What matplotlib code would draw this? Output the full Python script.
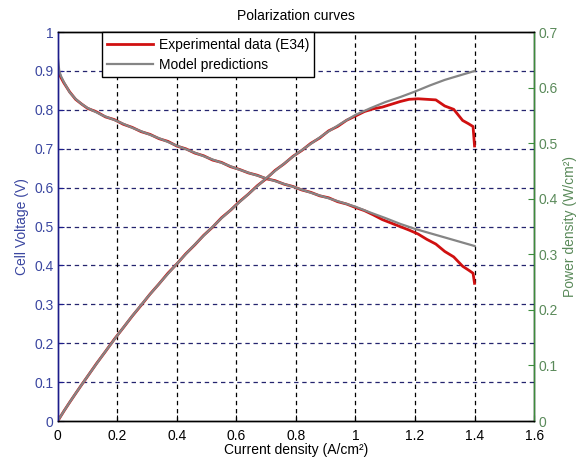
import numpy as np
import matplotlib
matplotlib.use("Agg")
import matplotlib.pyplot as plt

plt.rcParams['font.family'] = ['Liberation Sans', 'DejaVu Sans']

# --- data ---
# experimental data (E34)
exp_i = [0, 0.01, 0.02, 0.04, 0.06, 0.08, 0.10, 0.13, 0.16, 0.19, 0.22, 0.25,
         0.28, 0.31, 0.34, 0.37, 0.40, 0.43, 0.46, 0.49, 0.52, 0.55, 0.58, 0.61,
         0.64, 0.67, 0.70, 0.73, 0.76, 0.79, 0.82, 0.85, 0.88, 0.91, 0.94, 0.97,
         1.00, 1.03, 1.06, 1.09, 1.12, 1.15, 1.18, 1.21, 1.24, 1.27, 1.30, 1.33,
         1.36, 1.38, 1.395, 1.40]
exp_v = [0.905, 0.884, 0.870, 0.846, 0.827, 0.815, 0.804, 0.795, 0.782, 0.775,
         0.763, 0.755, 0.744, 0.737, 0.726, 0.719, 0.707, 0.700, 0.689, 0.682,
         0.671, 0.665, 0.654, 0.647, 0.638, 0.632, 0.623, 0.618, 0.609, 0.603,
         0.594, 0.588, 0.579, 0.574, 0.564, 0.558, 0.549, 0.541, 0.530, 0.518,
         0.509, 0.500, 0.491, 0.481, 0.467, 0.455, 0.436, 0.422, 0.398, 0.388,
         0.380, 0.354]
exp_p = [0, 0.0088, 0.0174, 0.0338, 0.0496, 0.0652, 0.0804, 0.1034, 0.1251,
         0.1473, 0.1679, 0.1888, 0.2083, 0.2285, 0.2468, 0.2660, 0.2828, 0.3010,
         0.3169, 0.3342, 0.3489, 0.3658, 0.3793, 0.3947, 0.4083, 0.4234, 0.4361,
         0.4511, 0.4628, 0.4764, 0.4871, 0.4998, 0.5095, 0.5223, 0.5302, 0.5413,
         0.5490, 0.5570, 0.5620, 0.5650, 0.5700, 0.5750, 0.5790, 0.5800, 0.5790,
         0.5780, 0.5670, 0.5610, 0.5410, 0.5350, 0.5300, 0.4950]

# model predictions
mod_i = [0, 0.005, 0.01, 0.02, 0.04, 0.06, 0.08, 0.10, 0.15, 0.20, 0.25, 0.30,
         0.35, 0.40, 0.45, 0.50, 0.55, 0.60, 0.65, 0.70, 0.75, 0.80, 0.85, 0.90,
         0.95, 1.00, 1.05, 1.10, 1.15, 1.20, 1.25, 1.30, 1.35, 1.40]
mod_v = [0.935, 0.900, 0.888, 0.872, 0.845, 0.828, 0.815, 0.805, 0.786, 0.771,
         0.754, 0.739, 0.724, 0.708, 0.693, 0.678, 0.664, 0.649, 0.636, 0.624,
         0.612, 0.600, 0.587, 0.575, 0.563, 0.551, 0.536, 0.522, 0.507, 0.494,
         0.483, 0.472, 0.461, 0.450]
mod_p = [0, 0.0045, 0.0089, 0.0174, 0.0338, 0.0497, 0.0652, 0.0805, 0.118, 0.154,
         0.189, 0.222, 0.253, 0.283, 0.312, 0.339, 0.365, 0.389, 0.413, 0.437,
         0.459, 0.480, 0.499, 0.518, 0.535, 0.551, 0.563, 0.574, 0.583, 0.593,
         0.604, 0.614, 0.622, 0.630]

x_ticks = [0, 0.2, 0.4, 0.6, 0.8, 1.0, 1.2, 1.4, 1.6]
x_labels = ['0', '0.2', '0.4', '0.6', '0.8', '1', '1.2', '1.4', '1.6']
v_ticks = [0, 0.1, 0.2, 0.3, 0.4, 0.5, 0.6, 0.7, 0.8, 0.9, 1.0]
v_labels = ['0', '0.1', '0.2', '0.3', '0.4', '0.5', '0.6', '0.7', '0.8', '0.9', '1']
p_ticks = [0, 0.1, 0.2, 0.3, 0.4, 0.5, 0.6, 0.7]
p_labels = ['0', '0.1', '0.2', '0.3', '0.4', '0.5', '0.6', '0.7']

red = '#d01010'
grey = '#858585'
navy = '#1c1c8a'
green = '#3c8c3c'
fs = 10

fig = plt.figure(figsize=(5.78, 4.68), dpi=100)
ax1 = fig.add_axes([0.100, 0.1004, 0.824, 0.831])
ax2 = ax1.twinx()

# voltage on left axis
l1, = ax1.plot(exp_i, exp_v, color=red, lw=2.0, label='Experimental data (E34)')
l2, = ax1.plot(mod_i, mod_v, color=grey, lw=1.6, label='Model predictions')
# power on right axis
ax2.plot(exp_i, exp_p, color=red, lw=2.0)
ax2.plot(mod_i, mod_p, color=grey, lw=1.6)

ax1.set_xlim(0, 1.6)
ax1.set_ylim(0, 1)
ax2.set_ylim(0, 0.7)

ax1.set_xticks(x_ticks)
ax1.set_xticklabels(x_labels)
ax1.set_yticks(v_ticks)
ax1.set_yticklabels(v_labels)
ax2.set_yticks(p_ticks)
ax2.set_yticklabels(p_labels)

dash = (0, (3.5, 3))
for v in v_ticks[1:-1]:
    ax1.axhline(v, color='#24246e', lw=0.9, ls=dash, zorder=0.5)
for x in x_ticks[1:-1]:
    ax1.axvline(x, color='black', lw=0.9, ls=dash, zorder=0.5)

ax1.tick_params(axis='x', direction='in', length=4, labelsize=fs, pad=6, colors='black', top=False)
ax1.tick_params(axis='y', direction='in', length=4, labelsize=fs, pad=3, colors='#3a46a0')
ax1.tick_params(axis='y', color=navy)
ax2.tick_params(axis='y', direction='in', length=4, labelsize=fs, pad=3, colors='#5a8a5a')
ax2.tick_params(axis='y', color=green)

ax1.spines['left'].set_color(navy)
ax2.spines['left'].set_color(navy)
ax2.spines['right'].set_color(green)
for ax in (ax1, ax2):
    ax.spines['top'].set_color('black')
    ax.spines['bottom'].set_color('black')
    for s in ax.spines.values():
        s.set_linewidth(1.0)

ax1.set_xlabel('Current density (A/cm²)', fontsize=fs, labelpad=0)
ax1.set_ylabel('Cell Voltage (V)', fontsize=fs, color='#3a46a0', labelpad=4)
ax2.set_ylabel('Power density (W/cm²)', fontsize=fs, color='#5a8a5a', labelpad=4)
ax1.set_title('Polarization curves', fontsize=fs, pad=9)

leg = ax2.legend(handles=[l1, l2], loc='upper left', bbox_to_anchor=(0.092, 1.0),
                 fontsize=fs, frameon=True, fancybox=False, framealpha=1,
                 edgecolor='black', borderpad=0.4, handlelength=3.3,
                 handletextpad=0.4, labelspacing=0.45, borderaxespad=0)
leg.get_frame().set_linewidth(1.0)
leg.set_zorder(10)

fig.savefig('out.png', dpi=100)
